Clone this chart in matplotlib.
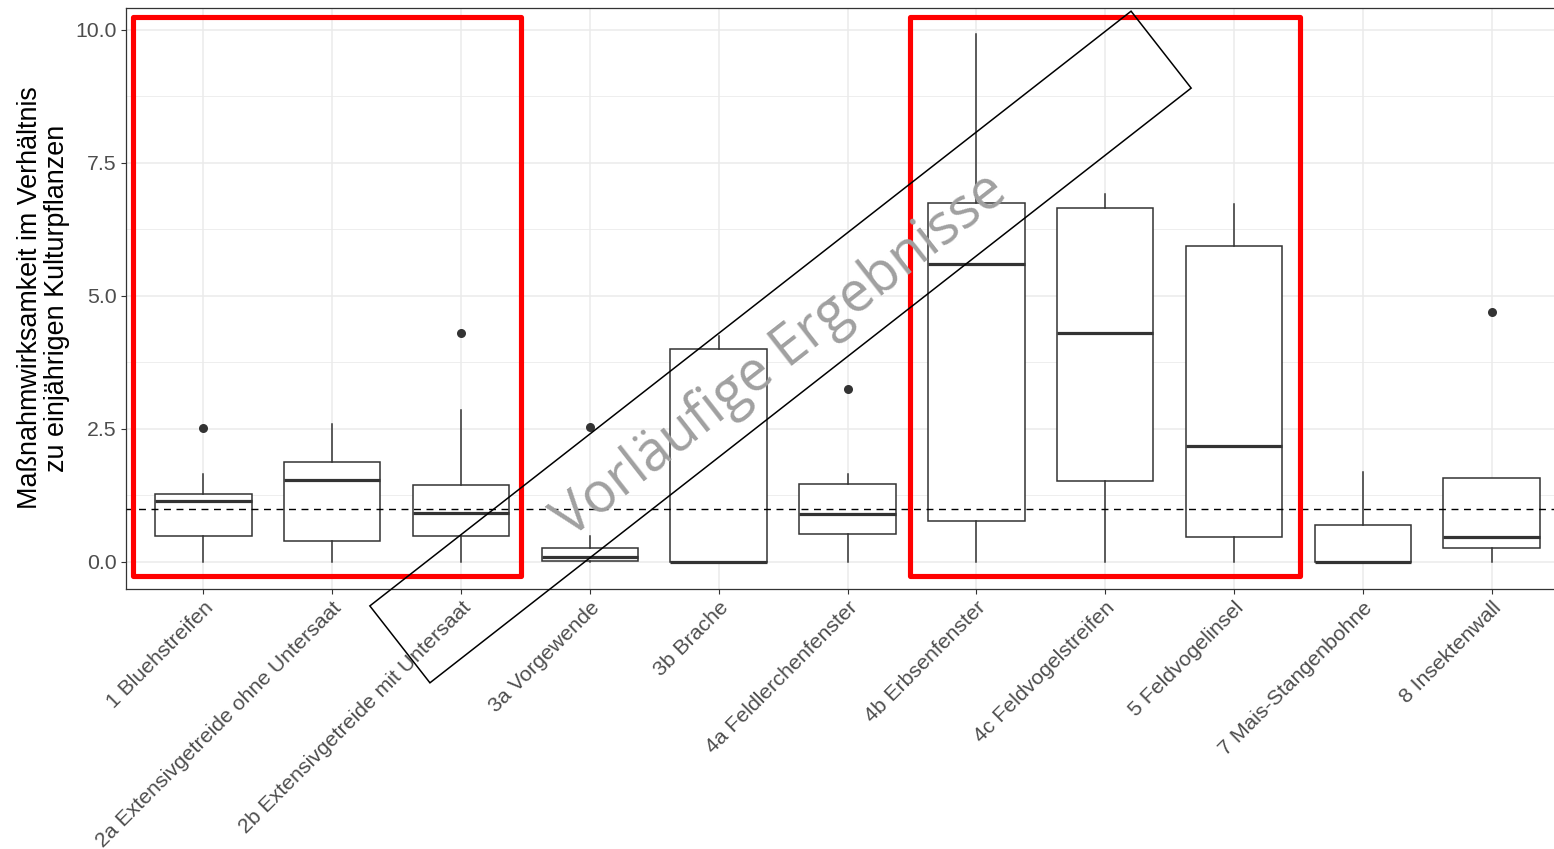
import matplotlib
matplotlib.use("Agg")
import matplotlib.pyplot as plt
from matplotlib.patches import Rectangle
from matplotlib.transforms import Affine2D

kategorien = ["1 Bluehstreifen", "2a Extensivgetreide ohne Untersaat",
              "2b Extensivgetreide mit Untersaat", "3a Vorgewende", "3b Brache",
              "4a Feldlerchenfenster", "4b Erbsenfenster", "4c Feldvogelstreifen",
              "5 Feldvogelinsel", "7 Mais-Stangenbohne", "8 Insektenwall"]
whisker_unten = [0.0, 0.0, 0.0, 0.0, 0.0, 0.0, 0.0, 0.0, 0.0, 0.0, 0.0]
q1 = [0.49, 0.39, 0.49, 0.02, 0.0, 0.53, 0.77, 1.52, 0.47, 0.0, 0.26]
median = [1.15, 1.54, 0.92, 0.09, 0.0, 0.90, 5.60, 4.30, 2.18, 0.0, 0.46]
q3 = [1.28, 1.88, 1.45, 0.26, 4.01, 1.47, 6.75, 6.65, 5.94, 0.70, 1.58]
whisker_oben = [1.65, 2.59, 2.86, 0.49, 4.25, 1.65, 9.92, 6.92, 6.73, 1.69, 1.58]
ausreisser = [[2.51], [], [4.30], [2.54], [], [3.25], [], [], [], [], [4.70]]

referenz = 1.0
markiert = [(0.454, 3.467), (6.487, 9.515)]
y_ticks = [0.0, 2.5, 5.0, 7.5, 10.0]

plt.rcParams['font.family'] = ['Liberation Sans', 'DejaVu Sans']

fig = plt.figure(figsize=(15.54, 8.49), dpi=100)
ax = fig.add_axes([126 / 1554, 1 - 589 / 849, 1443 / 1554, 581 / 849])

stats = []
for i, name in enumerate(kategorien):
    stats.append({"label": name, "whislo": whisker_unten[i], "q1": q1[i], "med": median[i],
                  "q3": q3[i], "whishi": whisker_oben[i], "fliers": ausreisser[i]})

ax.bxp(stats, positions=range(1, len(kategorien) + 1), widths=0.75, showcaps=False,
       patch_artist=True,
       boxprops=dict(facecolor="white", edgecolor="#333333", linewidth=1.1),
       whiskerprops=dict(color="#333333", linewidth=1.1),
       medianprops=dict(color="#333333", linewidth=2.3),
       flierprops=dict(marker="o", markerfacecolor="#333333", markeredgecolor="none", markersize=6.5),
       zorder=3)

ax.axhline(referenz, color="black", linestyle=(0, (5, 4)), linewidth=1.0, zorder=4)

ax.set_xlim(0.4, len(kategorien) + 0.6)
ax.set_ylim(-0.508, 10.41)
ax.set_yticks(y_ticks)
ax.set_yticklabels([f"{v:.1f}" for v in y_ticks])
ax.set_yticks([1.25, 3.75, 6.25, 8.75], minor=True)
ax.set_xticks(range(1, len(kategorien) + 1))
ax.set_xticklabels(kategorien, rotation=45, ha="right", va="top", rotation_mode="anchor")

ax.grid(True, which="major", color="#EBEBEB", linewidth=1.1, zorder=0)
ax.grid(True, which="minor", axis="y", color="#EBEBEB", linewidth=0.6, zorder=0)
ax.set_axisbelow(True)
ax.tick_params(axis="both", which="major", colors="#333333", length=3.5, width=0.8,
               labelsize=15.3, labelcolor="#4D4D4D", pad=3)
ax.tick_params(axis="both", which="minor", length=0)
for s in ax.spines.values():
    s.set_color("#333333")
    s.set_linewidth(0.9)

fig.text(44 / 1554, 1 - 298 / 849,
         "Maßnahmwirksamkeit im Verhältnis\nzu einjährigen Kulturpflanzen",
         rotation=90, ha="center", va="center", multialignment="center",
         fontsize=19.4, color="black", linespacing=1.05)

# rote Markierungen
for links, rechts in markiert:
    ax.add_patch(Rectangle((links, -0.263), rechts - links, 10.235 + 0.263, fill=False,
                           edgecolor="red", linewidth=3.7, joinstyle="round",
                           clip_on=False, zorder=6))

# Wasserzeichen (Pixelkoordinaten)
cx, cy = 780.5, 849 - 347
breite, hoehe, winkel = 966, 97.6, 38.0
wz = Rectangle((-breite / 2, -hoehe / 2), breite, hoehe, fill=False, edgecolor="black",
               linewidth=1.1, transform=Affine2D().rotate_deg(winkel).translate(cx, cy),
               clip_on=False, zorder=7)
fig.patches.append(wz)
fig.text(781 / 1554, 1 - 356 / 849, "Vorläufige Ergebnisse", rotation=winkel,
         rotation_mode="anchor", ha="center", va="center", fontsize=40,
         color="#A0A0A0", family=["Open Sans", "DejaVu Sans"], zorder=8)

fig.savefig("out.png", dpi=100)
